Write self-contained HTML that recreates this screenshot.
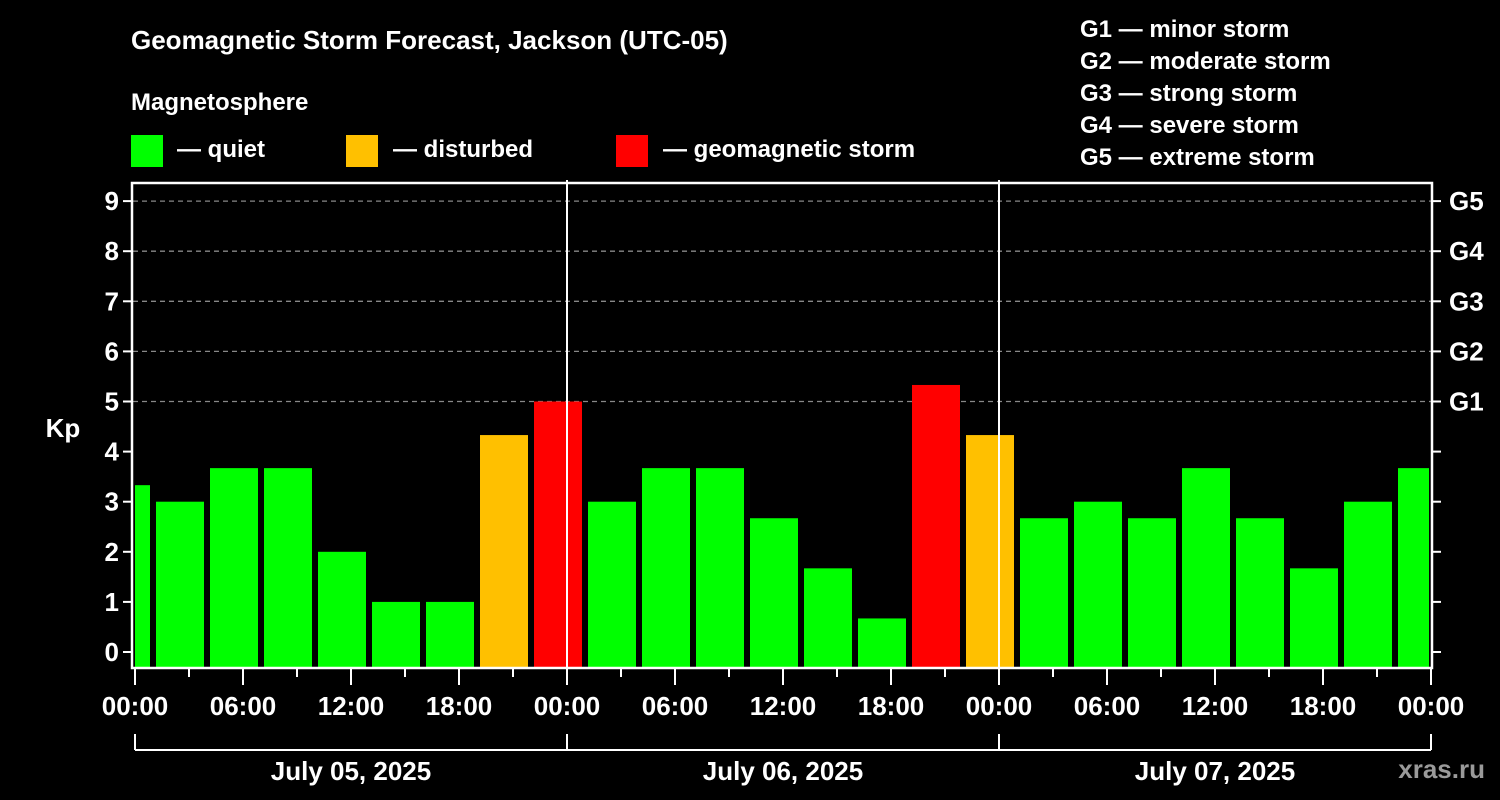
<!DOCTYPE html>
<html><head><meta charset="utf-8"><style>
html,body{margin:0;padding:0;background:#000;width:1500px;height:800px;overflow:hidden}
svg text{font-family:"Liberation Sans",Arial,sans-serif;font-weight:bold;fill:#fff}
</style></head><body>
<svg id="chart" width="1500" height="800" xmlns="http://www.w3.org/2000/svg">
<text x="131" y="49" font-size="26">Geomagnetic Storm Forecast, Jackson (UTC-05)</text>
<text x="131" y="110" font-size="24">Magnetosphere</text>
<rect x="131" y="135" width="32" height="32" fill="#00ff00"/>
<text x="177" y="157" font-size="24">— quiet</text>
<rect x="346" y="135" width="32" height="32" fill="#ffc000"/>
<text x="393" y="157" font-size="24">— disturbed</text>
<rect x="616" y="135" width="32" height="32" fill="#ff0000"/>
<text x="663" y="157" font-size="24">— geomagnetic storm</text>
<g font-size="24">
<text x="1080" y="37">G1 — minor storm</text>
<text x="1080" y="69">G2 — moderate storm</text>
<text x="1080" y="101">G3 — strong storm</text>
<text x="1080" y="133">G4 — severe storm</text>
<text x="1080" y="165">G5 — extreme storm</text>
</g>
<text x="63" y="437" font-size="26" text-anchor="middle">Kp</text>
<text x="1485" y="778" font-size="26" text-anchor="end" fill="#999" style="fill:#9a9a9a">xras.ru</text>
<g id="grid"></g><g id="bars"></g><g id="axes"></g>
</svg>
<script>
const kpValues=[3.33,3,3.67,3.67,2,1,1,4.33,5,3,3.67,3.67,2.67,1.67,0.67,5.33,4.33,2.67,3,2.67,3.67,2.67,1.67,3,3.67];
const firstBarHour=-0.5; // center of first bin in local hours
const yTicks=[0,1,2,3,4,5,6,7,8,9];
const gLabels=["G1","G2","G3","G4","G5"];
const xTickLabels=["00:00","06:00","12:00","18:00","00:00","06:00","12:00","18:00","00:00","06:00","12:00","18:00","00:00"];
const dayLabels=["July 05, 2025","July 06, 2025","July 07, 2025"];
const L=133,R=1431,T=183,B=668;
const xS=h=>135+h*18; const yS=v=>652-v*50.1;
const NS="http://www.w3.org/2000/svg";
function mk(tag,attrs,parent,txt){const e=document.createElementNS(NS,tag);for(const k in attrs)e.setAttribute(k,attrs[k]);if(txt!==undefined)e.textContent=txt;document.getElementById(parent).appendChild(e);return e;}
yTicks.forEach(v=>{if(v>=5){const g=mk('line',{x1:L,x2:R,y1:yS(v),y2:yS(v),stroke:'#888','stroke-width':1.3,'stroke-dasharray':'5,4'},'grid');

}});
kpValues.forEach((v,i)=>{const c=xS(firstBarHour+3*i);let x0=Math.max(c-24,L+2),x1=Math.min(c+24,R-2);
const col=v>=5?'#ff0000':(v>=4?'#ffc000':'#00ff00');
const r=mk('rect',{x:x0,y:yS(v),width:x1-x0,height:B-yS(v),fill:col},'bars');

});
const ax='axes';
const fr=mk('rect',{x:L-1,y:T,width:R-L+2,height:B-T,fill:'none',stroke:'#fff','stroke-width':2.5},ax);


[1,2].forEach(d=>{const l=mk('line',{x1:xS(24*d),x2:xS(24*d),y1:180,y2:B,stroke:'#fff','stroke-width':2},ax);

});
yTicks.forEach(v=>{mk('line',{x1:L-10,x2:L,y1:yS(v),y2:yS(v),stroke:'#fff','stroke-width':2},ax);
mk('line',{x1:R,x2:R+10,y1:yS(v),y2:yS(v),stroke:'#fff','stroke-width':2},ax);
const t=mk('text',{x:L-14,y:yS(v)+9,'font-size':26,'text-anchor':'end'},ax,String(v));

});
gLabels.forEach((g,i)=>{const t=mk('text',{x:1449,y:yS(5+i)+9,'font-size':26},ax,g);

});
for(let h=0;h<=72;h+=3){const maj=h%6===0;mk('line',{x1:xS(h),x2:xS(h),y1:B,y2:B+(maj?17:9),stroke:'#fff','stroke-width':2},ax);}
xTickLabels.forEach((s,i)=>{const t=mk('text',{x:xS(6*i)+0*0,y:715,'font-size':26,'text-anchor':'middle'},ax,s);

});
mk('line',{x1:xS(0),x2:xS(72),y1:750,y2:750,stroke:'#fff','stroke-width':2},ax);
[0,24,48,72].forEach(h=>mk('line',{x1:xS(h),x2:xS(h),y1:734,y2:750,stroke:'#fff','stroke-width':2},ax));
dayLabels.forEach((s,i)=>{const t=mk('text',{x:xS(24*i+12),y:780,'font-size':26,'text-anchor':'middle'},ax,s);

});
</script>
</body></html>
